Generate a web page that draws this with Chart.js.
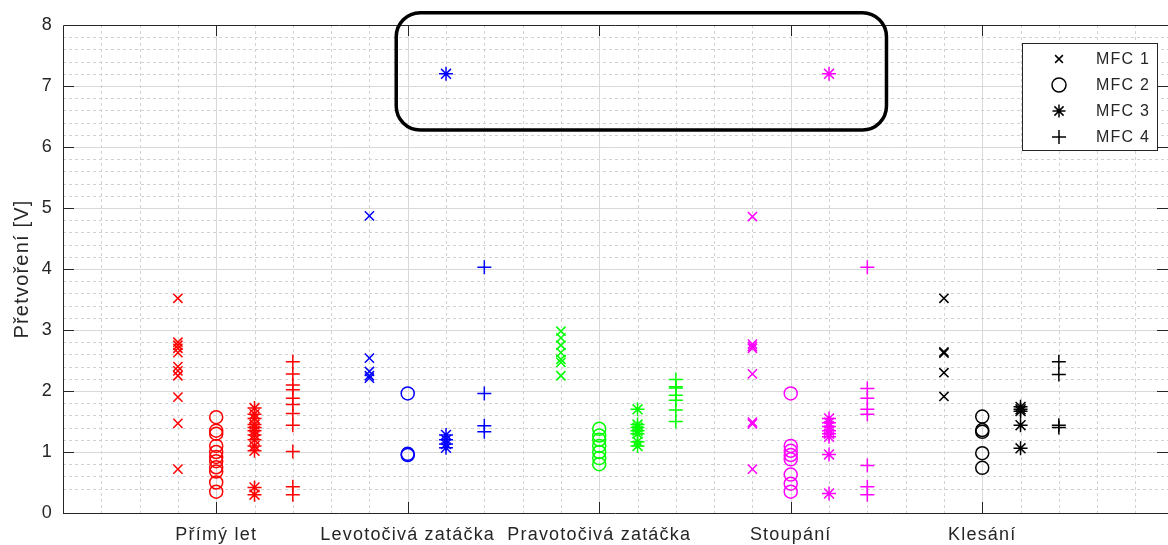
<!DOCTYPE html>
<html><head><meta charset="utf-8">
<script src="https://cdn.jsdelivr.net/npm/chart.js@4.4.1/dist/chart.umd.min.js"></script>
<style>html,body{margin:0;padding:0;background:#fff;} canvas{display:block;}</style>
</head><body>
<canvas id="c" width="1168" height="545"></canvas>
<script>
// ---- data ----
const categories = ['Přímý let', 'Levotočivá zatáčka', 'Pravotočivá zatáčka', 'Stoupání', 'Klesání'];
const seriesNames = ['MFC 1', 'MFC 2', 'MFC 3', 'MFC 4'];
const yTicks = [0, 1, 2, 3, 4, 5, 6, 7, 8];

const primyLetMFC1 = [3.52, 2.80, 2.75, 2.70, 2.63, 2.40, 2.33, 2.25, 1.90, 1.47, 0.72];
const primyLetMFC2 = [1.57, 1.35, 1.30, 1.10, 1.00, 0.92, 0.85, 0.75, 0.68, 0.50, 0.35];
const primyLetMFC3 = [1.72, 1.62, 1.55, 1.45, 1.40, 1.35, 1.28, 1.20, 1.10, 1.02, 0.42, 0.30];
const primyLetMFC4 = [2.48, 2.28, 2.10, 2.02, 1.88, 1.78, 1.63, 1.44, 1.01, 0.43, 0.30];

const levotocivaMFC1 = [4.87, 2.54, 2.32, 2.25, 2.21];
const levotocivaMFC2 = [1.96, 0.97, 0.95];
const levotocivaMFC3 = [7.20, 1.28, 1.20, 1.13, 1.07];
const levotocivaMFC4 = [4.03, 1.96, 1.43, 1.33];

const pravotocivaMFC1 = [2.98, 2.87, 2.75, 2.63, 2.52, 2.47, 2.25];
const pravotocivaMFC2 = [1.38, 1.27, 1.20, 1.10, 1.00, 0.90, 0.80];
const pravotocivaMFC3 = [1.70, 1.45, 1.40, 1.35, 1.30, 1.17, 1.10];
const pravotocivaMFC4 = [2.19, 2.07, 2.05, 1.93, 1.85, 1.69, 1.50];

const stoupaniMFC1 = [4.86, 2.77, 2.73, 2.70, 2.28, 1.49, 1.46, 0.72];
const stoupaniMFC2 = [1.96, 1.10, 1.02, 0.95, 0.88, 0.63, 0.48, 0.35];
const stoupaniMFC3 = [7.20, 1.55, 1.48, 1.42, 1.35, 1.30, 1.25, 0.96, 0.32];
const stoupaniMFC4 = [4.03, 2.04, 1.88, 1.70, 1.62, 0.78, 0.43, 0.30];

const klesaniMFC1 = [3.52, 2.64, 2.62, 2.30, 1.91];
const klesaniMFC2 = [1.58, 1.36, 1.33, 0.98, 0.74];
const klesaniMFC3 = [1.74, 1.70, 1.67, 1.44, 1.06];
const klesaniMFC4 = [2.48, 2.27, 1.44, 1.40];

// ---- styles ----
const categoryColors = ['#ff0000', '#0000ff', '#00ff00', '#ff00ff', '#000000'];
const seriesMarkers = ['crossRot', 'circle', 'star', 'cross'];
const seriesRadius = [6.5, 6.5, 7, 7];
const seriesOffsets = [-0.2, 0, 0.2, 0.4];
const highlightBox = { xMin: 1.94, xMax: 4.5, yMin: 6.28, yMax: 8.2 };

const valuesByCategory = [
  [primyLetMFC1, primyLetMFC2, primyLetMFC3, primyLetMFC4],
  [levotocivaMFC1, levotocivaMFC2, levotocivaMFC3, levotocivaMFC4],
  [pravotocivaMFC1, pravotocivaMFC2, pravotocivaMFC3, pravotocivaMFC4],
  [stoupaniMFC1, stoupaniMFC2, stoupaniMFC3, stoupaniMFC4],
  [klesaniMFC1, klesaniMFC2, klesaniMFC3, klesaniMFC4]
];

const datasets = [];
valuesByCategory.forEach((group, ci) => {
  group.forEach((vals, si) => {
    datasets.push({
      label: categories[ci] + ' ' + seriesNames[si],
      data: vals.map(v => ({ x: ci + 1 + seriesOffsets[si], y: v })),
      pointStyle: seriesMarkers[si],
      pointRadius: seriesRadius[si],
      pointHoverRadius: seriesRadius[si],
      pointBorderWidth: 1.5,
      pointBorderColor: categoryColors[ci],
      pointBackgroundColor: 'rgba(0,0,0,0)',
      borderColor: categoryColors[ci],
      showLine: false
    });
  });
});

const AXIS = '#262626';
const FONT = "'Liberation Sans', Arial, Helvetica, sans-serif";
const SPACING = '1.2px';

const spacingPlugin = {
  id: 'spacing',
  beforeUpdate(c) { c.ctx.letterSpacing = SPACING; },
  beforeLayout(c) { c.ctx.letterSpacing = SPACING; },
  beforeDraw(c) { c.ctx.letterSpacing = SPACING; }
};

const gridPlugin = {
  id: 'matlabGrid',
  beforeDatasetsDraw(c) {
    const ctx = c.ctx, a = c.chartArea, xs = c.scales.x, ys = c.scales.y;
    ctx.save();
    ctx.lineWidth = 1;
    // minor
    ctx.strokeStyle = '#d2d2d2';
    ctx.setLineDash([3, 3]);
    for (let k = 2; k < 40; k++) {
      if (k % 5 === 0) continue;
      const v = k / 5;
      const py = Math.round(ys.getPixelForValue(v)) + 0.5;
      ctx.beginPath(); ctx.moveTo(a.left, py); ctx.lineTo(a.right, py); ctx.stroke();
    }
    for (let k = 2; k < 30; k++) {
      if (k % 5 === 0) continue;
      const v = k / 5;
      if (v > xs.max) break;
      const px = Math.round(xs.getPixelForValue(v)) + 0.5;
      ctx.beginPath(); ctx.moveTo(px, a.top); ctx.lineTo(px, a.bottom); ctx.stroke();
    }
    // major
    ctx.setLineDash([]);
    ctx.strokeStyle = '#d9d9d9';
    for (let v = 1; v < 8; v++) {
      const py = Math.round(ys.getPixelForValue(v)) + 0.5;
      ctx.beginPath(); ctx.moveTo(a.left, py); ctx.lineTo(a.right, py); ctx.stroke();
    }
    for (let v = 1; v <= 5; v++) {
      const px = Math.round(xs.getPixelForValue(v)) + 0.5;
      ctx.beginPath(); ctx.moveTo(px, a.top); ctx.lineTo(px, a.bottom); ctx.stroke();
    }
    // axes box
    ctx.strokeStyle = AXIS;
    ctx.beginPath();
    ctx.moveTo(a.left + 0.5, a.bottom + 0.5); ctx.lineTo(a.left + 0.5, a.top + 0.5); ctx.lineTo(a.right, a.top + 0.5);
    ctx.moveTo(a.left, a.bottom + 0.5); ctx.lineTo(a.right, a.bottom + 0.5);
    ctx.stroke();
    // ticks
    const TL = 11;
    ctx.beginPath();
    for (let v = 1; v < 8; v++) {
      const py = Math.round(ys.getPixelForValue(v)) + 0.5;
      ctx.moveTo(a.left, py); ctx.lineTo(a.left + TL, py);
      ctx.moveTo(a.right, py); ctx.lineTo(a.right - TL, py);
    }
    for (let v = 1; v <= 5; v++) {
      const px = Math.round(xs.getPixelForValue(v)) + 0.5;
      ctx.moveTo(px, a.top); ctx.lineTo(px, a.top + TL);
      ctx.moveTo(px, a.bottom); ctx.lineTo(px, a.bottom - TL);
    }
    ctx.stroke();
    ctx.restore();
  },
  afterDraw(c) {
    const ctx = c.ctx, xs = c.scales.x, ys = c.scales.y;
    ctx.save();
    // highlight rounded rectangle
    const x0 = xs.getPixelForValue(highlightBox.xMin), x1 = xs.getPixelForValue(highlightBox.xMax);
    const y0 = ys.getPixelForValue(highlightBox.yMax), y1 = ys.getPixelForValue(highlightBox.yMin);
    ctx.lineWidth = 3.5;
    ctx.strokeStyle = '#000';
    ctx.beginPath();
    ctx.roundRect(x0, y0, x1 - x0, y1 - y0, 24);
    ctx.stroke();

    // legend
    const lx = 1022.5, ly = 43.5, lw = 135, lh = 107;
    ctx.fillStyle = '#fff';
    ctx.fillRect(lx, ly, lw, lh);
    ctx.lineWidth = 1;
    ctx.strokeStyle = AXIS;
    ctx.strokeRect(lx, ly, lw, lh);
    const rows = [59, 85, 111, 137];
    const legRadius = [5.5, 7, 6.5, 7];
    ctx.font = '16px ' + FONT;
    ctx.letterSpacing = SPACING;
    ctx.textBaseline = 'middle';
    ctx.textAlign = 'left';
    seriesNames.forEach((name, i) => {
      ctx.strokeStyle = '#000';
      ctx.fillStyle = 'rgba(0,0,0,0)';
      ctx.lineWidth = 1.5;
      Chart.helpers.drawPoint(ctx, { pointStyle: seriesMarkers[i], radius: legRadius[i], borderWidth: 1.5, rotation: 0 }, 1059, rows[i]);
      ctx.fillStyle = AXIS;
      ctx.fillText(name, 1096, rows[i] + 1);
    });
    ctx.restore();
  }
};

new Chart(document.getElementById('c'), {
  type: 'scatter',
  data: { datasets },
  plugins: [spacingPlugin, gridPlugin],
  options: {
    responsive: false,
    animation: false,
    events: [],
    devicePixelRatio: 1,
    layout: { padding: { top: 25, right: 0, left: 0, bottom: 0 }, autoPadding: false },
    plugins: { legend: { display: false }, tooltip: { enabled: false } },
    scales: {
      x: {
        type: 'linear',
        min: 0.2,
        max: 5.97,
        grid: { display: false, drawTicks: false, tickLength: 0 },
        border: { display: false },
        afterBuildTicks(s) { s.ticks = categories.map((_, i) => ({ value: i + 1 })); },
        afterFit(s) { s.height = 32; s.paddingLeft = 0; s.paddingRight = 0; },
        ticks: {
          autoSkip: false, maxRotation: 0, minRotation: 0, padding: 11,
          color: AXIS, font: { family: FONT, size: 18 },
          callback: (v) => categories[Math.round(v) - 1] || ''
        }
      },
      y: {
        min: 0,
        max: 8,
        grid: { display: false, drawTicks: false, tickLength: 0 },
        border: { display: false },
        afterBuildTicks(s) { s.ticks = yTicks.map(v => ({ value: v })); },
        afterFit(s) { s.width = 63; s.paddingTop = 0; s.paddingBottom = 0; },
        ticks: { padding: 10, color: AXIS, font: { family: FONT, size: 18 } },
        title: {
          display: true, text: 'Přetvoření [V]', color: AXIS,
          font: { family: FONT, size: 20 }, padding: { top: 10, bottom: 0 }
        }
      }
    }
  }
});
</script>
</body></html>
